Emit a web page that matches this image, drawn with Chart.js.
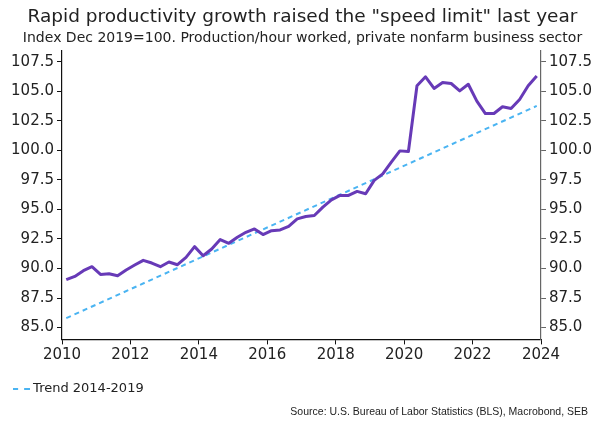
<!DOCTYPE html>
<html>
<head>
<meta charset="utf-8">
<script src="https://cdn.jsdelivr.net/npm/chart.js@4.4.1/dist/chart.umd.min.js"></script>
<style>
  html, body { margin: 0; padding: 0; background: #fff; }
  #wrap { position: relative; width: 595px; height: 423px; }
</style>
</head>
<body>
<div id="wrap"><canvas id="productivityChart"></canvas></div>
<script>
/* Productivity index vs 2014-2019 trend */

// quarterly, 2010Q1 .. 2023Q4
const quarters = [
  '2010Q1', '2010Q2', '2010Q3', '2010Q4',
  '2011Q1', '2011Q2', '2011Q3', '2011Q4',
  '2012Q1', '2012Q2', '2012Q3', '2012Q4',
  '2013Q1', '2013Q2', '2013Q3', '2013Q4',
  '2014Q1', '2014Q2', '2014Q3', '2014Q4',
  '2015Q1', '2015Q2', '2015Q3', '2015Q4',
  '2016Q1', '2016Q2', '2016Q3', '2016Q4',
  '2017Q1', '2017Q2', '2017Q3', '2017Q4',
  '2018Q1', '2018Q2', '2018Q3', '2018Q4',
  '2019Q1', '2019Q2', '2019Q3', '2019Q4',
  '2020Q1', '2020Q2', '2020Q3', '2020Q4',
  '2021Q1', '2021Q2', '2021Q3', '2021Q4',
  '2022Q1', '2022Q2', '2022Q3', '2022Q4',
  '2023Q1', '2023Q2', '2023Q3', '2023Q4',
];

const productivity = [
  89.05, 89.33, 89.81, 90.15,
  89.50, 89.56, 89.39, 89.87,
  90.29, 90.69, 90.46, 90.15,
  90.55, 90.32, 90.94, 91.85,
  91.08, 91.65, 92.45, 92.13,
  92.64, 93.06, 93.35, 92.87,
  93.20, 93.26, 93.57, 94.20,
  94.40, 94.48, 95.19, 95.80,
  96.18, 96.18, 96.52, 96.32,
  97.45, 98.00, 99.00, 99.95,
  99.90, 105.46, 106.22, 105.23,
  105.74, 105.65, 105.03, 105.59,
  104.16, 103.11, 103.11, 103.68,
  103.53, 104.30, 105.46, 106.28,
];

// straight trend line, end points only
const trendQuarters = ['2010Q1', '2023Q4'];
const trendValues = [85.8, 103.75];

const yTicks = [85, 87.5, 90, 92.5, 95, 97.5, 100, 102.5, 105, 107.5];
const xTicks = [2010, 2012, 2014, 2016, 2018, 2020, 2022, 2024];

const PURPLE = '#673ab7';
const TREND_BLUE = '#4ab4f2';
const TEXT = '#222';
const FONT = "'DejaVu Sans', sans-serif";

function quarterToYear(q) {
  const [y, n] = q.split('Q');
  return Number(y) + (Number(n) - 0.5) / 4;
}

function toPoints(labels, values) {
  return labels.map((q, i) => ({ x: quarterToYear(q), y: values[i] }));
}

// two short dashes for the trend legend entry
function dashMarker() {
  const c = document.createElement('canvas');
  c.width = 17;
  c.height = 2;
  const g = c.getContext('2d');
  g.fillStyle = TREND_BLUE;
  g.fillRect(0, 0, 5, 2);
  g.fillRect(11, 0, 6, 2);
  return c;
}

function yAxis(position, color, width) {
  return {
    type: 'linear',
    position,
    min: 84,
    max: 108.4,
    afterBuildTicks: s => { s.ticks = yTicks.map(v => ({ value: v })); },
    afterFit: s => { s.width = width; },
    ticks: {
      color: TEXT,
      font: { family: FONT, size: 15 },
      padding: 3,
      callback: v => v.toFixed(1),
    },
    grid: { drawOnChartArea: false, tickLength: 5, tickColor: color, lineWidth: 1 },
    border: { display: true, color, width: 1.2 },
  };
}

// source note in the bottom right corner
const sourceNote = {
  id: 'sourceNote',
  afterDraw(chart) {
    const { ctx } = chart;
    ctx.save();
    ctx.font = "10.5px 'Liberation Sans Narrow', 'Liberation Sans', sans-serif";
    ctx.fillStyle = TEXT;
    ctx.textAlign = 'right';
    ctx.textBaseline = 'middle';
    ctx.fillText('Source: U.S. Bureau of Labor Statistics (BLS), Macrobond, SEB', 588, 412);
    ctx.restore();
  },
};

const ctx = document.getElementById('productivityChart').getContext('2d');

new Chart(ctx, {
  type: 'line',
  data: {
    datasets: [
      {
        label: 'Productivity',
        data: toPoints(quarters, productivity),
        borderColor: PURPLE,
        backgroundColor: PURPLE,
        borderWidth: 3,
        borderJoinStyle: 'round',
        pointRadius: 0,
        tension: 0,
        yAxisID: 'y',
      },
      {
        label: 'Trend 2014-2019',
        data: toPoints(trendQuarters, trendValues),
        borderColor: TREND_BLUE,
        backgroundColor: TREND_BLUE,
        borderWidth: 2,
        borderDash: [5, 4],
        pointRadius: 0,
        tension: 0,
        yAxisID: 'y',
      },
    ],
  },
  options: {
    responsive: true,
    maintainAspectRatio: false,
    animation: false,
    layout: { padding: { left: 10, right: 0, top: 1, bottom: 18 } },
    plugins: {
      title: {
        display: true,
        text: 'Rapid productivity growth raised the "speed limit" last year',
        color: TEXT,
        font: { family: FONT, size: 18.5, weight: 'normal' },
        padding: { top: 5, bottom: 0 },
      },
      subtitle: {
        display: true,
        text: 'Index Dec 2019=100. Production/hour worked, private nonfarm business sector',
        color: TEXT,
        font: { family: FONT, size: 14 },
        padding: { top: 2, bottom: 4 },
      },
      legend: {
        position: 'bottom',
        align: 'start',
        labels: {
          filter: item => item.datasetIndex === 1,
          usePointStyle: true,
          pointStyle: dashMarker(),
          pointStyleWidth: 10,
          color: TEXT,
          font: { family: FONT, size: 13 },
          padding: 6.6,
        },
      },
      tooltip: { enabled: false },
    },
    scales: {
      x: {
        type: 'linear',
        min: 2010,
        max: 2024,
        afterBuildTicks: s => { s.ticks = xTicks.map(v => ({ value: v })); },
        afterFit: s => { s.height = 36; },
        ticks: {
          color: TEXT,
          font: { family: FONT, size: 15 },
          padding: 2,
          maxRotation: 0,
          callback: v => String(v),
        },
        grid: { drawOnChartArea: false, tickLength: 5, tickColor: '#111', lineWidth: 1 },
        border: { display: true, color: '#111', width: 1.2 },
      },
      y: yAxis('left', '#111', 52),
      y2: yAxis('right', '#666', 54),
    },
  },
  plugins: [sourceNote],
});
</script>
</body>
</html>
